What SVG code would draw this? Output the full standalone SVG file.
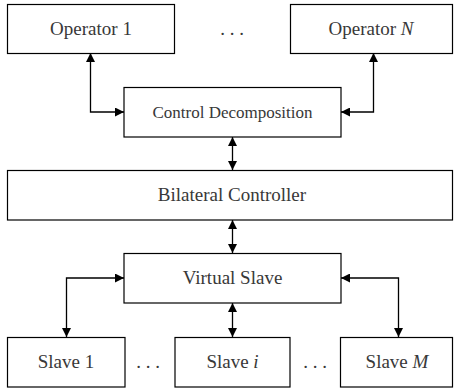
<svg xmlns="http://www.w3.org/2000/svg" width="455" height="389" viewBox="0 0 455 389">
<style>
.box{fill:#fff;stroke:#000;stroke-width:1.2}
text{font-family:'Liberation Serif',serif;font-size:19px;fill:#383838;text-anchor:middle}
.s{font-size:17px}
.c{fill:none;stroke:#000;stroke-width:1.3}
</style>
<defs>
<marker id="ah" viewBox="0 0 10 10" refX="10" refY="5" markerWidth="9" markerHeight="9" markerUnits="userSpaceOnUse" orient="auto-start-reverse">
<path d="M0,0 L10,5 L0,10 Z" fill="#000"/>
</marker>
</defs>
<g id="connectors">
<path class="c" d="M90.5,53 V112 H124" marker-start="url(#ah)" marker-end="url(#ah)"/>
<path class="c" d="M373.5,53 V112 H341" marker-start="url(#ah)" marker-end="url(#ah)"/>
<path class="c" d="M232.5,137 V170" marker-start="url(#ah)" marker-end="url(#ah)"/>
<path class="c" d="M232.5,220 V253" marker-start="url(#ah)" marker-end="url(#ah)"/>
<path class="c" d="M124,278 H66.5 V337" marker-start="url(#ah)" marker-end="url(#ah)"/>
<path class="c" d="M341,278 H398.5 V337" marker-start="url(#ah)" marker-end="url(#ah)"/>
<path class="c" d="M232.5,303 V337" marker-start="url(#ah)" marker-end="url(#ah)"/>
</g>
<g id="op1"><rect class="box" x="7.5" y="4.5" width="167" height="49"/><text x="91" y="35">Operator 1</text></g>
<g id="dots-top"><text x="232" y="35">. . .</text></g>
<g id="opN"><rect class="box" x="290.5" y="4.5" width="162" height="49"/><text x="371" y="35">Operator <tspan font-style="italic">N</tspan></text></g>
<g id="ctrl"><rect class="box" x="124" y="87.5" width="217" height="49.5"/><text class="s" x="232.5" y="117.5">Control Decomposition</text></g>
<g id="bilateral"><rect class="box" x="7.5" y="170.5" width="445" height="49.5"/><text x="232" y="201">Bilateral Controller</text></g>
<g id="virtual"><rect class="box" x="124" y="253.5" width="217" height="49.5"/><text x="232.5" y="284">Virtual Slave</text></g>
<g id="slave1"><rect class="box" x="7.5" y="337.5" width="117.5" height="49.5"/><text x="66" y="368">Slave 1</text></g>
<g id="dots-l"><text x="148" y="368">. . .</text></g>
<g id="slavei"><rect class="box" x="175" y="337.5" width="115" height="49.5"/><text x="232.5" y="368">Slave <tspan font-style="italic">i</tspan></text></g>
<g id="dots-r"><text x="315" y="368">. . .</text></g>
<g id="slaveM"><rect class="box" x="340.5" y="337.5" width="112" height="49.5"/><text x="397" y="368">Slave <tspan font-style="italic">M</tspan></text></g>
</svg>
